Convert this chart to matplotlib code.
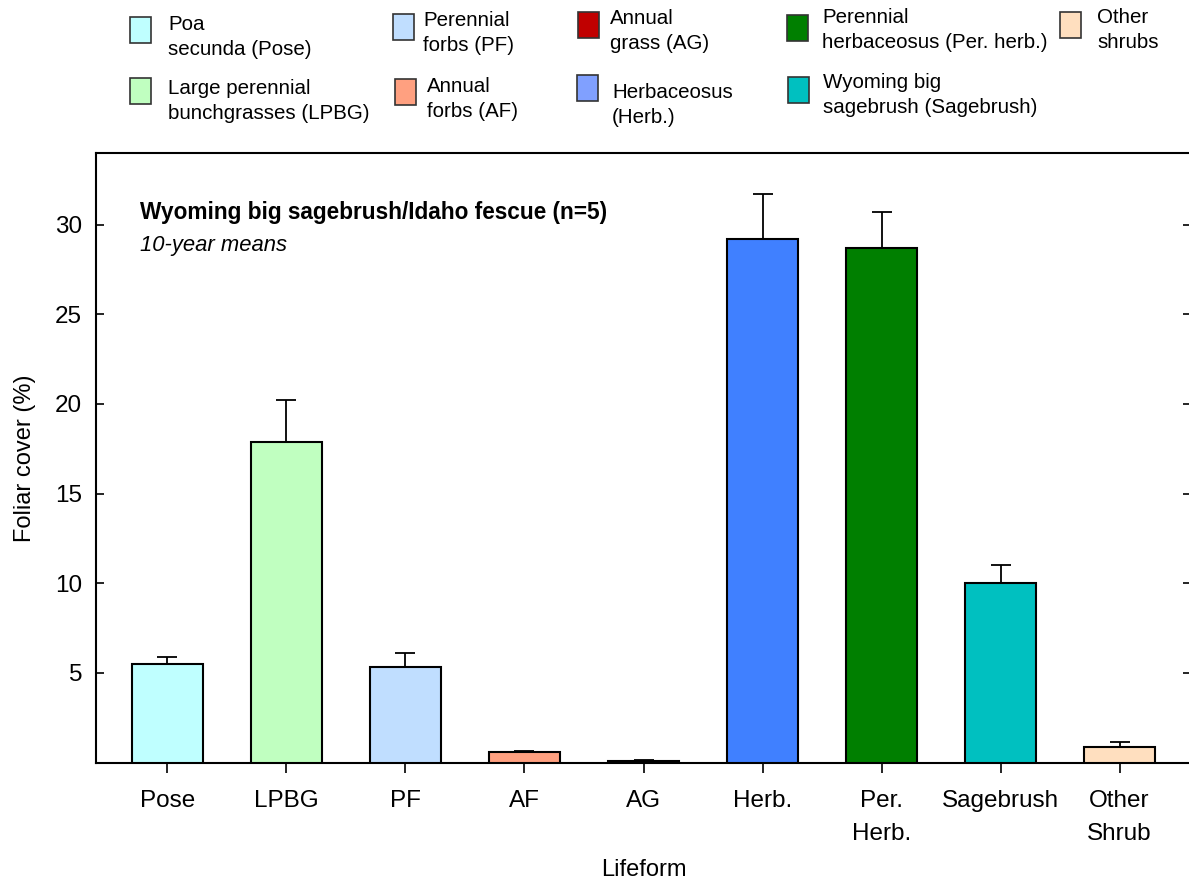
import matplotlib
matplotlib.use('Agg')
from matplotlib import pyplot as plt
from matplotlib.patches import Rectangle

plt.rcParams['font.family'] = ['Liberation Sans', 'DejaVu Sans']

# data
lifeforms = ['Pose', 'LPBG', 'PF', 'AF', 'AG', 'Herb.', 'Per.\nHerb.', 'Sagebrush', 'Other\nShrub']
cover = [5.5, 17.9, 5.3, 0.6, 0.1, 29.2, 28.7, 10.0, 0.85]
cover_se = [0.4, 2.3, 0.8, 0.06, 0.03, 2.5, 2.0, 1.0, 0.3]
colors = ['#BFFFFF', '#C0FFC0', '#C0DEFF', '#FFA080', '#C00000',
          '#4080FF', '#007F00', '#00C0C0', '#FFDFBF']

legend_labels = ['Poa\nsecunda (Pose)', 'Large perennial\nbunchgrasses (LPBG)',
                 'Perennial\nforbs (PF)', 'Annual\nforbs (AF)',
                 'Annual\ngrass (AG)', 'Herbaceosus\n(Herb.)',
                 'Perennial\nherbaceosus (Per. herb.)', 'Wyoming big\nsagebrush (Sagebrush)',
                 'Other\nshrubs']
legend_colors = ['#BFFFFF', '#C0FFC0', '#C0DEFF', '#FFA080', '#C00000',
                 '#80A0FF', '#007F00', '#00C0C0', '#FFDFBF']

W, H = 1189, 884
fig = plt.figure(figsize=(W / 100, H / 100), dpi=100)
ax = fig.add_axes([96 / W, 1 - 762.5 / H, (1191 - 96) / W, (762.5 - 153) / H])

x = list(range(len(lifeforms)))
ax.bar(x, cover, width=0.6, color=colors, edgecolor='black', linewidth=1.5, zorder=3)
ax.errorbar(x, cover, yerr=[[0] * len(x), cover_se], fmt='none', ecolor='black',
            elinewidth=1.3, capsize=7.5, capthick=1.3, zorder=2)

ax.set_xlim(-0.6, 8.6)
ax.set_ylim(0, 34)
ax.set_yticks([5, 10, 15, 20, 25, 30])
ax.set_xticks(x)
ax.set_xticklabels(lifeforms, fontsize=17.5, linespacing=1.62)
ax.tick_params(axis='y', labelsize=17.5, direction='in', length=6, width=1.2, right=True, pad=10)
ax.tick_params(axis='x', direction='out', length=7, width=1.2, pad=13)
ax.spines['right'].set_visible(False)
for s in ['left', 'bottom', 'top']:
    ax.spines[s].set_linewidth(1.5)

ax.set_ylabel('Foliar cover (%)', fontsize=17, labelpad=14)
ax.set_xlabel('Lifeform', fontsize=17, labelpad=10)

fig.text(140 / W, 1 - 213 / H, 'Wyoming big sagebrush/Idaho fescue (n=5)',
         fontsize=16.3, fontweight='bold', va='center', ha='left')
fig.text(140 / W, 1 - 246 / H, '10-year means',
         fontsize=15.8, style='italic', va='center', ha='left')

# legend drawn by hand, 5 columns x 2 rows
patch_x = [130, 130, 393, 395, 578, 577, 787, 788, 1060]
patch_y = [17, 78, 14, 79, 12, 75, 15, 77, 12]
text_x = [168, 168, 423, 427, 610, 612, 822, 823, 1097]
text_y = [37, 101, 33, 99, 31, 105, 30, 95, 30]
for i in range(len(legend_labels)):
    fig.patches.append(Rectangle((patch_x[i] / W, 1 - (patch_y[i] + 26) / H), 21 / W, 26 / H,
                                 transform=fig.transFigure, facecolor=legend_colors[i],
                                 edgecolor='#333333', linewidth=1.2))
    fig.text(text_x[i] / W, 1 - text_y[i] / H, legend_labels[i], fontsize=14.75,
             va='center', ha='left', linespacing=1.45)

fig.savefig('out.png', dpi=100)
